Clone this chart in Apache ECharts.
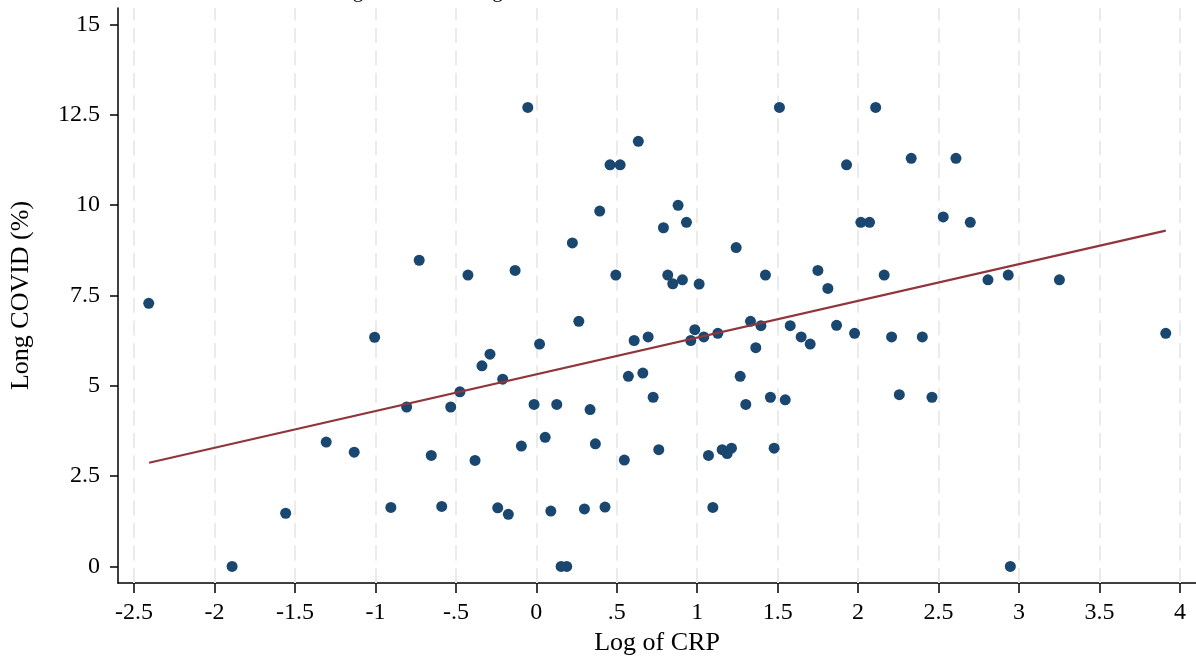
<!DOCTYPE html>
<html>
<head>
  <meta charset="utf-8">
  <title>Long COVID vs log of CRP</title>
  <script src="https://cdn.jsdelivr.net/npm/echarts@6/dist/echarts.min.js"></script>
  <style>
    html, body { margin: 0; padding: 0; background: #ffffff; }
    #chart { width: 1196px; height: 667px; }
  </style>
</head>
<body>
<div id="chart"></div>
<script>
  // log of CRP (x) and long COVID % (y)
  var logCrp = [
    -2.409, -1.891, -1.558, -1.306, -1.132, -1.005, -0.904, -0.806, -0.728, -0.653,
    -0.588, -0.532, -0.475, -0.425, -0.381, -0.338, -0.288, -0.240, -0.209, -0.174,
    -0.132, -0.093, -0.053, -0.014, 0.020, 0.055, 0.090, 0.127, 0.154, 0.189,
    0.224, 0.264, 0.299, 0.334, 0.367, 0.394, 0.427, 0.458, 0.494, 0.521,
    0.547, 0.572, 0.608, 0.634, 0.662, 0.695, 0.726, 0.761, 0.790, 0.817,
    0.848, 0.881, 0.908, 0.933, 0.960, 0.985, 1.012, 1.041, 1.070, 1.097,
    1.128, 1.155, 1.186, 1.213, 1.242, 1.267, 1.302, 1.331, 1.364, 1.396,
    1.424, 1.455, 1.478, 1.511, 1.547, 1.578, 1.646, 1.702, 1.750, 1.812,
    1.866, 1.928, 1.978, 2.017, 2.071, 2.109, 2.162, 2.208, 2.256, 2.330,
    2.399, 2.459, 2.529, 2.608, 2.697, 2.807, 2.933, 2.946, 3.251, 3.912
  ];
  var longCovid = [
    7.28, 0, 1.47, 3.44, 3.16, 6.34, 1.63, 4.41, 8.47, 3.07,
    1.66, 4.41, 4.83, 8.06, 2.93, 5.55, 5.87, 1.62, 5.18, 1.44,
    8.19, 3.33, 12.70, 4.48, 6.15, 3.57, 1.53, 4.48, 0, 0,
    8.95, 6.78, 1.59, 4.34, 3.39, 9.83, 1.64, 11.11, 8.06, 11.11,
    2.94, 5.26, 6.25, 11.76, 5.35, 6.35, 4.68, 3.23, 9.37, 8.06,
    7.82, 9.99, 7.93, 9.52, 6.25, 6.55, 7.81, 6.35, 3.07, 1.63,
    6.45, 3.23, 3.12, 3.27, 8.82, 5.26, 4.48, 6.78, 6.05, 6.66,
    8.06, 4.68, 3.27, 12.70, 4.61, 6.66, 6.35, 6.15, 8.19, 7.69,
    6.67, 11.11, 6.45, 9.52, 9.52, 12.70, 8.06, 6.35, 4.75, 11.29,
    6.35, 4.68, 9.67, 11.29, 9.52, 7.93, 8.06, 0, 7.93, 6.45
  ];
  // fitted line end points
  var fitX = [-2.407, 3.912];
  var fitY = [2.867, 9.29];

  var xTicks = [-2.5, -2, -1.5, -1, -0.5, 0, 0.5, 1, 1.5, 2, 2.5, 3, 3.5, 4];
  var yTicks = [0, 2.5, 5, 7.5, 10, 12.5, 15];

  var points = logCrp.map(function (v, i) { return [v, longCovid[i]]; });
  var fitLine = fitX.map(function (v, i) { return [v, fitY[i]]; });

  var chart = echarts.init(document.getElementById('chart'));
  var font = '"Liberation Serif", "Times New Roman", serif';

  chart.setOption({
    animation: false,
    textStyle: { fontFamily: font },
    grid: { left: 118, right: 0, top: 8, bottom: 84, outerBoundsMode: 'none' },
    // title sits above the picture, only its descenders show
    graphic: [{
      type: 'text',
      left: 319,
      top: -19,
      silent: true,
      style: {
        text: 'Long COVID and log CRP',
        font: '21px ' + font,
        fill: '#000000'
      }
    }],
    xAxis: {
      type: 'value',
      min: -2.6,
      max: 4.1,
      name: 'Log of CRP',
      nameLocation: 'middle',
      nameGap: 46,
      nameTextStyle: { fontSize: 26, color: '#000000', fontFamily: font },
      axisLine: { onZero: false, lineStyle: { color: '#000000', width: 1.5 } },
      axisTick: { show: true, length: 10, customValues: xTicks, lineStyle: { color: '#000000', width: 1.5 } },
      axisLabel: {
        customValues: xTicks,
        margin: 18,
        fontSize: 24,
        color: '#000000',
        fontFamily: font,
        formatter: function (v) { return String(v).replace('0.', '.'); }
      },
      splitLine: { show: false }
    },
    yAxis: {
      type: 'value',
      min: -0.46,
      max: 15.45,
      name: 'Long COVID (%)',
      nameLocation: 'middle',
      nameGap: 84,
      nameTextStyle: { fontSize: 26, color: '#000000', fontFamily: font },
      axisLine: { show: true, onZero: false, lineStyle: { color: '#000000', width: 1.5 } },
      axisTick: { show: true, length: 8, customValues: yTicks, lineStyle: { color: '#000000', width: 1.5 } },
      axisLabel: {
        customValues: yTicks,
        margin: 18,
        fontSize: 24,
        color: '#000000',
        fontFamily: font
      },
      splitLine: { show: false }
    },
    series: [
      {
        name: 'points',
        type: 'scatter',
        data: points,
        symbol: 'circle',
        symbolSize: 11,
        itemStyle: { color: '#1a476f', opacity: 1 },
        z: 3,
        markLine: {
          silent: true,
          symbol: ['none', 'none'],
          label: { show: false },
          lineStyle: { color: '#ebebeb', width: 2, type: [15, 7.5] },
          data: xTicks.map(function (t) { return { xAxis: t }; }),
          z: 1
        }
      },
      {
        name: 'fit',
        type: 'line',
        data: fitLine,
        symbol: 'none',
        lineStyle: { color: '#90353b', width: 2.2 },
        z: 4
      }
    ]
  });
</script>
</body>
</html>
